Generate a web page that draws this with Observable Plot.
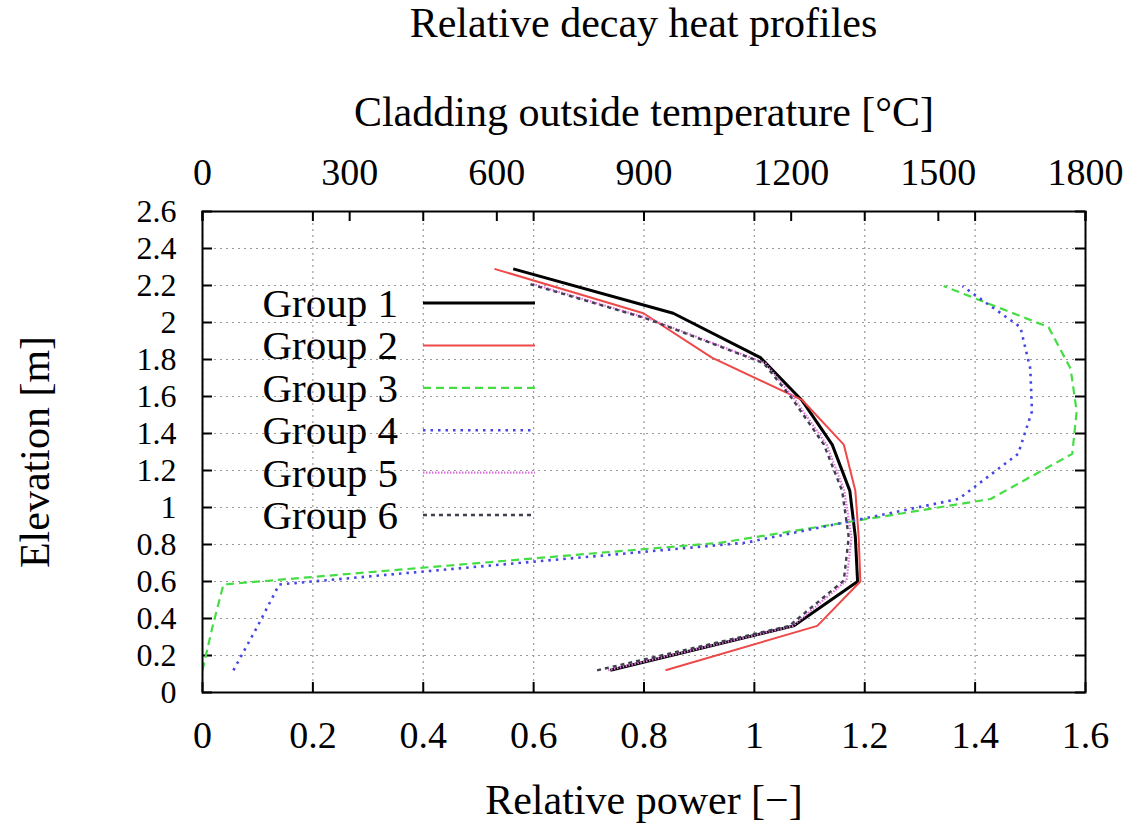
<!DOCTYPE html>
<html>
<head>
<meta charset="utf-8">
<script src="https://cdn.jsdelivr.net/npm/d3@7"></script>
<script src="https://cdn.jsdelivr.net/npm/@observablehq/plot@0.6"></script>
<style>
  html, body { margin: 0; padding: 0; background: #fff; overflow: hidden; }
  #wrap { width: 1141px; height: 823px; font-family: "Liberation Serif", "DejaVu Serif", serif; color: #000; }
  #title { height: 44px; line-height: 46px; font-size: 42px; text-align: center; padding-left: 146px; box-sizing: border-box; width: 1141px; white-space: nowrap; }
  svg { display: block; }
</style>
</head>
<body>
<div id="wrap">
  <div id="title">Relative decay heat profiles</div>
  <div id="chart"></div>
</div>
<script>
// ---- data ----
const groups = ["Group 1", "Group 2", "Group 3", "Group 4", "Group 5", "Group 6"];

const elevA = [0.12, 0.36, 0.60, 0.84, 1.09, 1.34, 1.58, 1.81, 2.05, 2.29];
const elevB = [0.12, 0.354, 0.584, 0.81, 1.046, 1.29, 1.52, 1.75, 1.975, 2.197];
const elevC = [0.12, 0.36, 0.605, 0.84, 1.09, 1.34, 1.59, 1.78, 2.02, 2.207];

const power1 = [0.739, 1.071, 1.187, 1.183, 1.173, 1.141, 1.086, 1.011, 0.853, 0.563];
const power2 = [0.839, 1.114, 1.192, 1.189, 1.183, 1.162, 1.087, 0.923, 0.799, 0.529];
const power3 = [0.0, 0.018, 0.038, 0.94, 1.428, 1.576, 1.584, 1.573, 1.533, 1.343];
const power4 = [0.056, 0.099, 0.139, 0.985, 1.37, 1.478, 1.503, 1.50, 1.482, 1.377];
const power5 = [0.735, 1.07, 1.167, 1.176, 1.163, 1.131, 1.072, 1.02, 0.81, 0.60];
const power6 = [0.715, 1.063, 1.162, 1.171, 1.159, 1.126, 1.068, 1.017, 0.806, 0.594];

const xTicks = [0, 0.2, 0.4, 0.6, 0.8, 1, 1.2, 1.4, 1.6];
const yTicks = [0, 0.2, 0.4, 0.6, 0.8, 1, 1.2, 1.4, 1.6, 1.8, 2, 2.2, 2.4, 2.6];
const tempTicks = [0, 300, 600, 900, 1200, 1500, 1800];
const tempMax = 1800, powerMax = 1.6;

// ---- styles ----
const styles = [
  {stroke: "#000000", strokeWidth: 3, strokeDasharray: null},
  {stroke: "#ee4848", strokeWidth: 2, strokeDasharray: null},
  {stroke: "#44dd44", strokeWidth: 2.2, strokeDasharray: "8,5"},
  {stroke: "#4646e6", strokeWidth: 2.6, strokeDasharray: "2.5,5"},
  {stroke: "#e070e0", strokeWidth: 2.2, strokeDasharray: "1.5,1.5"},
  {stroke: "#404050", strokeWidth: 2.4, strokeDasharray: "4,4"}
];

const elevs = [elevA, elevA, elevB, elevB, elevC, elevC];
const powers = [power1, power2, power3, power4, power5, power6];
const series = groups.map((g, gi) => elevs[gi].map((e, i) => ({group: g, elevation: e, power: powers[gi][i]})));

const W = 1141, H = 779;
const mL = 202, mR = 56, mT = 167, mB = 131;
const plotW = W - mL - mR, plotH = H - mT - mB;
const tempPos = tempTicks.map(t => t / tempMax * powerMax);

const font = 38;
const yFont = 32;
const labelFont = 42;

const chart = Plot.plot({
  width: W, height: H,
  marginLeft: mL, marginRight: mR, marginTop: mT, marginBottom: mB,
  style: {fontFamily: '"Liberation Serif", "DejaVu Serif", serif', fontSize: font + "px", background: "#fff", color: "#000", overflow: "visible"},
  x: {domain: [0, 1.6]},
  y: {domain: [0, 2.6]},
  marks: [
    Plot.gridX(xTicks, {stroke: "#999", strokeOpacity: 1, strokeWidth: 1.2, strokeDasharray: "2,4"}),
    Plot.gridY(yTicks, {stroke: "#999", strokeOpacity: 1, strokeWidth: 1.2, strokeDasharray: "2,4"}),
    // inward ticks
    Plot.tickX(xTicks, {x: d => d, insetTop: plotH - 10, stroke: "#000", strokeWidth: 2}),
    Plot.tickX(xTicks, {x: d => d, insetBottom: plotH - 10, stroke: "#000", strokeWidth: 2}),
    Plot.tickX(tempPos, {x: d => d, insetBottom: plotH - 10, stroke: "#000", strokeWidth: 2}),
    Plot.tickY(yTicks, {y: d => d, insetRight: plotW - 10, stroke: "#000", strokeWidth: 2}),
    Plot.tickY(yTicks, {y: d => d, insetLeft: plotW - 10, stroke: "#000", strokeWidth: 2}),
    // data lines
    ...series.map((s, i) => Plot.line(s, {x: "power", y: "elevation", ...styles[i], strokeLinejoin: "miter", strokeLinecap: "butt", clip: true})),
    Plot.frame({stroke: "#000", strokeWidth: 2}),
    // axes
    Plot.axisX(xTicks, {anchor: "bottom", tickSize: 0, tickPadding: 29, fontSize: font, label: null, tickFormat: d => String(d)}),
    Plot.axisX(tempPos, {anchor: "top", tickSize: 0, tickPadding: 27, fontSize: font, label: null, tickFormat: d => String(Math.round(d / powerMax * tempMax))}),
    Plot.axisY(yTicks, {anchor: "left", tickSize: 0, tickPadding: 26, fontSize: yFont, label: null, tickFormat: d => String(d)}),
    // axis titles
    Plot.text(["Relative power [\u2212]"], {frameAnchor: "bottom", dy: 108, lineAnchor: "middle", fontSize: labelFont}),
    Plot.text(["Cladding outside temperature [\u00B0C]"], {frameAnchor: "top", dy: -99, lineAnchor: "middle", fontSize: labelFont}),
    Plot.text(["Elevation [m]"], {frameAnchor: "left", dx: -167, rotate: -90, lineAnchor: "middle", textAnchor: "middle", fontSize: labelFont})
  ]
});

document.getElementById("chart").appendChild(chart);

// ---- legend (inside plot, top-left) ----
const svg = d3.select(chart);
const lg = svg.append("g").attr("class", "legend");
const rowY0 = 303 - 44, rowStep = 42.4;
groups.forEach((g, i) => {
  const y = rowY0 + i * rowStep;
  lg.append("text")
    .attr("x", 398).attr("y", y)
    .attr("text-anchor", "end")
    .attr("dominant-baseline", "central")
    .attr("font-size", 41)
    .attr("fill", "#000")
    .text(g);
  lg.append("line")
    .attr("x1", 423).attr("x2", 535).attr("y1", y).attr("y2", y)
    .attr("stroke", styles[i].stroke)
    .attr("stroke-width", styles[i].strokeWidth)
    .attr("stroke-dasharray", styles[i].strokeDasharray);
});
</script>
</body>
</html>
